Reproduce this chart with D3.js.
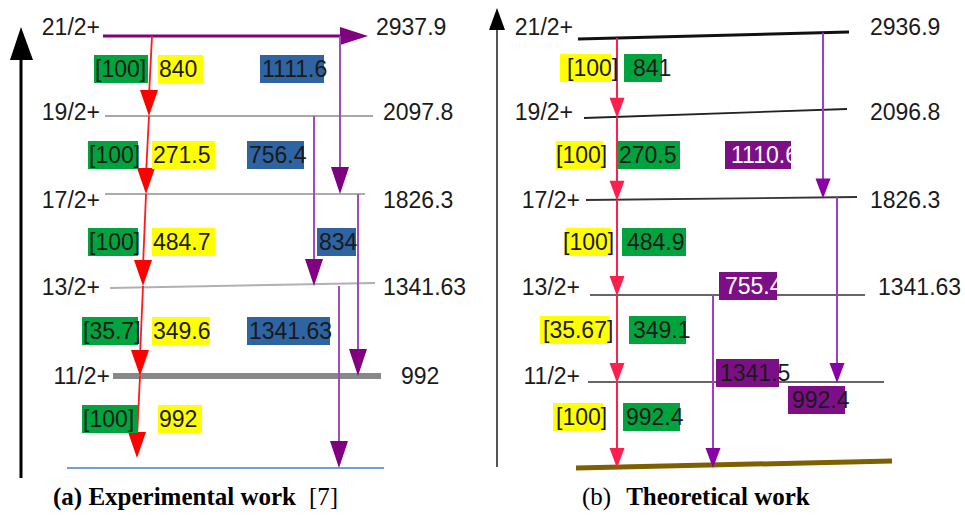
<!DOCTYPE html>
<html lang="en">
<head>
<meta charset="UTF-8">
<title>level scheme</title>
<script src="https://cdn.jsdelivr.net/npm/d3@7"></script>
<style>
  body { margin: 0; background: #fff; }
  text { font-family: "Liberation Sans", Arial, sans-serif; }
  .cap { font-family: "Liberation Serif", "Times New Roman", serif; }
</style>
</head>
<body>
<svg id="chart" width="965" height="516"></svg>
<script>
// ---- data ----
const spins = ["21/2+", "19/2+", "17/2+", "13/2+", "11/2+"];
const levels = spins.concat(["g.s."]);
const expEnergy = ["2937.9", "2097.8", "1826.3", "1341.63", "992"];
const theoEnergy = ["2936.9", "2096.8", "1826.3", "1341.63", ""];

// main cascade, one per gap between levels
const expGamma = ["840", "271.5", "484.7", "349.6", "992"];
const expIntensity = ["[100]", "[100]", "[100]", "[35.7]", "[100]"];
const theoGamma = ["841", "270.5", "484.9", "349.1", "992.4"];
const theoIntensity = ["[100]", "[100]", "[100]", "[35.67]", "[100]"];

// side transitions
const expSideFrom = ["21/2+", "19/2+", "17/2+", "13/2+"];
const expSideTo = ["17/2+", "13/2+", "11/2+", "g.s."];
const expSideLabel = ["1111.6", "756.4", "834", "1341.63"];
const theoSideFrom = ["21/2+", "17/2+", "13/2+"];
const theoSideTo = ["17/2+", "11/2+", "g.s."];
const theoSideLabel = ["1110.6", "755.4", "1341.5", "992.4"];

// ---- layout ----
const svg = d3.select("#chart");
const FS = 23;

const purpleLine = "#a24bbd", purpleHead = "#800080";

function head(g, x, y, w, h, color, dir) {
  // triangle with tip at (x,y); dir "down" or "right"
  let p = dir === "right"
    ? [[x, y], [x - h, y - w / 2], [x - h, y + w / 2]]
    : [[x, y], [x - w / 2, y - h], [x + w / 2, y - h]];
  g.append("path").attr("d", d3.line()(p) + "Z").attr("fill", color);
}

function label(g, txt, x, y, opt) {
  opt = opt || {};
  if (opt.box) {
    g.append("rect").attr("x", opt.bx).attr("y", y - 14)
      .attr("width", opt.bw).attr("height", 28).attr("fill", opt.box);
  }
  g.append("text").attr("x", x).attr("y", y).attr("dy", "0.35em")
    .attr("text-anchor", opt.anchor || "start")
    .attr("font-size", FS).attr("fill", opt.color || "#1a1a1a")
    .text(txt);
}

// ================= panel (a) =================
const a = svg.append("g");
const yA = d3.scaleOrdinal().domain(levels).range([36, 116, 194, 286, 376, 468]);
const yA_tilt = d3.scaleOrdinal().domain(levels).range([0, 0, 0, -5, 0, 0]);
const labA = d3.scaleOrdinal().domain(spins).range([27, 112, 200, 287, 376]);
const gapRowA = d3.scaleOrdinal().domain(d3.range(5)).range([69, 155, 242, 331, 419]);
const xRedA = d3.scaleLinear().domain([0, 5]).range([152, 137]);

// vertical axis arrow
a.append("line").attr("x1", 21).attr("x2", 21).attr("y1", 478).attr("y2", 55)
  .attr("stroke", "#000").attr("stroke-width", 3);
a.append("path").attr("d", d3.line()([[21, 27], [10, 60], [33, 60]]) + "Z").attr("fill", "#000");

// level lines
const lvA = {
  "19/2+": { x1: 105, x2: 373, c: "#8a8a8a", w: 1.5 },
  "17/2+": { x1: 105, x2: 365, c: "#5a5a5a", w: 1.2 },
  "13/2+": { x1: 110, x2: 375, c: "#b0b0b0", w: 2 },
  "11/2+": { x1: 113, x2: 381, c: "#888888", w: 6 },
  "g.s.":  { x1: 67,  x2: 384, c: "#4a7fc1", w: 1.5 }
};
Object.keys(lvA).forEach(k => {
  const L = lvA[k];
  const dy = k === "13/2+" ? 2 : 0;
  a.append("line").attr("x1", L.x1).attr("x2", L.x2)
    .attr("y1", yA(k) + dy).attr("y2", yA(k) + yA_tilt(k) + dy)
    .attr("stroke", L.c).attr("stroke-width", L.w);
});

// top level drawn as horizontal purple arrow
a.append("line").attr("x1", 103).attr("x2", 342).attr("y1", yA("21/2+")).attr("y2", yA("21/2+"))
  .attr("stroke", purpleHead).attr("stroke-width", 3);
head(a, 368, yA("21/2+"), 18, 28, purpleHead, "right");

// spin / energy labels
spins.forEach((s, i) => {
  label(a, s, i === 4 ? 110 : 100, labA(s), { anchor: "end" });
  label(a, expEnergy[i], i === 0 ? 376 : (i === 4 ? 401 : 383), labA(s));
});

// red cascade
expGamma.forEach((gm, i) => {
  const x1 = xRedA(i), x2 = xRedA(i + 1);
  const y1 = yA(levels[i]), y2 = i === 4 ? 458 : yA(levels[i + 1]);
  a.append("line").attr("x1", x1).attr("x2", x2).attr("y1", y1).attr("y2", y2 - 20)
    .attr("stroke", "#ff1a1a").attr("stroke-width", 1.8);
  head(a, x2, y2, 18, 26, "#ff0000", "down");
});

// side transitions (purple)
const sideXA = [340, 314, 358, 339];
expSideFrom.forEach((f, i) => {
  const x = sideXA[i], y1 = yA(f), y2 = yA(expSideTo[i]);
  a.append("line").attr("x1", x).attr("x2", x).attr("y1", y1).attr("y2", y2 - 20)
    .attr("stroke", purpleLine).attr("stroke-width", 2);
  head(a, x, y2, 18, 27, purpleHead, "down");
});

// gamma labels (a)
const greenA = [[94, 54], [88, 50], [88, 50], [82, 56], [82, 56]];
const yellowA = [[158, 45], [152, 63], [152, 63], [152, 58], [158, 44]];
expGamma.forEach((gm, i) => {
  const y = gapRowA(i);
  label(a, expIntensity[i], greenA[i][0] + 1, y, { box: "#00a33d", bx: greenA[i][0], bw: greenA[i][1] });
  label(a, gm, yellowA[i][0] + 1, y, { box: "#ffff00", bx: yellowA[i][0], bw: yellowA[i][1] });
});
const blueA = [[260, 64, 0], [247, 57, 1], [317, 39, 2], [247, 83, 3]];
expSideLabel.forEach((t, i) => {
  const b = blueA[i];
  label(a, t, b[0] + 2, gapRowA(b[2]), { box: "#2f64a3", bx: b[0], bw: b[1] });
});

// caption (a)
const capA = a.append("text").attr("class", "cap").attr("x", 53).attr("y", 505)
  .attr("font-size", 25);
capA.append("tspan").attr("font-weight", "bold").text("(a) Experimental work");
capA.append("tspan").attr("dx", 13).text("[7]");

// ================= panel (b) =================
const b = svg.append("g");
const lvB = d3.scaleOrdinal().domain(levels).range([
  { x1: 578, y1: 39, x2: 849, y2: 32, w: 3, c: "#111" },
  { x1: 584, y1: 118, x2: 847, y2: 109, w: 1.8, c: "#222" },
  { x1: 586, y1: 200, x2: 857, y2: 197, w: 1.8, c: "#333" },
  { x1: 590, y1: 295, x2: 865, y2: 295, w: 1.5, c: "#333" },
  { x1: 588, y1: 382, x2: 884, y2: 382, w: 1.5, c: "#333" },
  { x1: 576, y1: 468, x2: 892, y2: 461, w: 5, c: "#7f6000" }
]);
const yB = (lv, x) => {
  const L = lvB(lv);
  return d3.scaleLinear().domain([L.x1, L.x2]).range([L.y1, L.y2])(x);
};
const labB = d3.scaleOrdinal().domain(spins).range([27, 112, 200, 287, 376]);
const gapRowB = d3.scaleOrdinal().domain(d3.range(5)).range([68, 155, 242, 330, 417]);

// vertical axis arrow
b.append("line").attr("x1", 497).attr("x2", 497).attr("y1", 467).attr("y2", 28)
  .attr("stroke", "#555").attr("stroke-width", 2);
b.append("path").attr("d", d3.line()([[497, 8], [489, 30], [505, 30]]) + "Z").attr("fill", "#000");

levels.forEach(lv => {
  const L = lvB(lv);
  b.append("line").attr("x1", L.x1).attr("y1", L.y1).attr("x2", L.x2).attr("y2", L.y2)
    .attr("stroke", L.c).attr("stroke-width", L.w);
});

spins.forEach((s, i) => {
  label(b, s, (i === 0 || i === 1) ? 573 : 580, labB(s), { anchor: "end" });
  if (theoEnergy[i]) label(b, theoEnergy[i], i === 3 ? 878 : 870, labB(s));
});

// red cascade (b)
const xRedB = 617;
theoGamma.forEach((gm, i) => {
  const y1 = yB(levels[i], xRedB), y2 = yB(levels[i + 1], xRedB);
  b.append("line").attr("x1", xRedB).attr("x2", xRedB).attr("y1", y1).attr("y2", y2 - 15)
    .attr("stroke", "#ff1f4f").attr("stroke-width", 2);
  head(b, xRedB, y2 + 1, 15, 20, "#ff1f4f", "down");
});

// side transitions (b)
const sideXB = [823, 837, 713];
theoSideFrom.forEach((f, i) => {
  const x = sideXB[i], y1 = yB(f, x), y2 = yB(theoSideTo[i], x) + (theoSideTo[i] === "g.s." ? 3 : 1);
  b.append("line").attr("x1", x).attr("x2", x).attr("y1", y1).attr("y2", y2 - 15)
    .attr("stroke", "#a43cc4").attr("stroke-width", 2);
  head(b, x, y2, 15, 20, "#8a00a8", "down");
});

// gamma labels (b): [box x, box w, text offset]
const yellowB = [[560, 51, 7], [556, 47, 0], [566, 45, -3], [540, 70, 3], [553, 50, 3]];
const greenB = [[624, 38, 9], [617, 63, 2], [622, 64, 5], [629, 57, 4], [623, 57, 3]];
theoGamma.forEach((gm, i) => {
  const y = gapRowB(i);
  label(b, theoIntensity[i], yellowB[i][0] + yellowB[i][2], y, { box: "#ffff00", bx: yellowB[i][0], bw: yellowB[i][1] });
  label(b, gm, greenB[i][0] + greenB[i][2], y, { box: "#00a33d", bx: greenB[i][0], bw: greenB[i][1] });
});
// purple side labels: [box x, box w, centre y, text colour]
const purpB = [[725, 66, 155, "#fff"], [719, 58, 286, "#fff"], [716, 63, 373, "#1a1a1a"], [788, 57, 400, "#1a1a1a"]];
theoSideLabel.forEach((t, i) => {
  const p = purpB[i];
  label(b, t, p[0] + (i < 2 ? 6 : 4), p[2], { box: "#7d0f86", bx: p[0], bw: p[1], color: p[3] });
});

// caption (b)
const capB = b.append("text").attr("class", "cap").attr("x", 582).attr("y", 505)
  .attr("font-size", 25);
capB.append("tspan").text("(b)");
capB.append("tspan").attr("dx", 15).attr("font-weight", "bold").text("Theoretical work");
</script>
</body>
</html>
